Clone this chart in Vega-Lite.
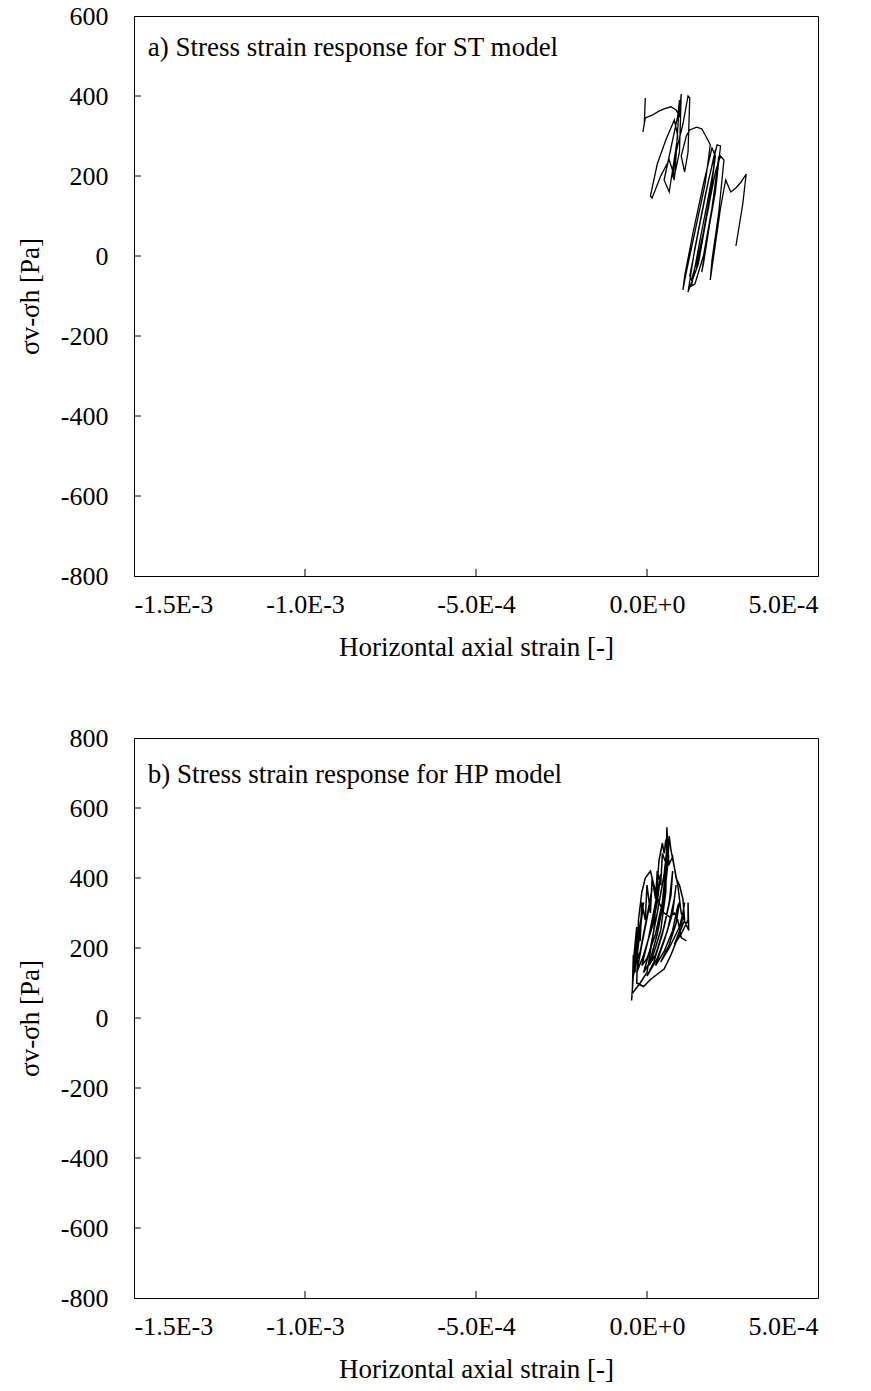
{
  "$schema": "https://vega.github.io/schema/vega-lite/v6.json",
  "background": "white",
  "padding": {"left": 15, "top": 2, "right": 5, "bottom": 5},
  "spacing": 162,
  "bounds": "flush",
  "datasets": {
    "st": [
      {"i": 1, "strain": -5e-6, "stress": 395},
      {"i": 2, "strain": -8e-6, "stress": 330},
      {"i": 3, "strain": -1.2e-5, "stress": 310},
      {"i": 4, "strain": -5e-6, "stress": 345},
      {"i": 5, "strain": 1.5e-5, "stress": 352},
      {"i": 6, "strain": 3.5e-5, "stress": 362},
      {"i": 7, "strain": 5.0e-5, "stress": 368},
      {"i": 8, "strain": 7.0e-5, "stress": 373},
      {"i": 9, "strain": 8.5e-5, "stress": 365},
      {"i": 10, "strain": 9.5e-5, "stress": 350},
      {"i": 11, "strain": 1.0e-4, "stress": 405},
      {"i": 12, "strain": 9.5e-5, "stress": 260},
      {"i": 13, "strain": 8.0e-5, "stress": 200},
      {"i": 14, "strain": 6.5e-5, "stress": 240},
      {"i": 15, "strain": 4.0e-5, "stress": 200},
      {"i": 16, "strain": 1.5e-5, "stress": 145},
      {"i": 17, "strain": 1.0e-5, "stress": 150},
      {"i": 18, "strain": 3.0e-5, "stress": 230},
      {"i": 19, "strain": 5.5e-5, "stress": 290},
      {"i": 20, "strain": 8.0e-5, "stress": 340},
      {"i": 21, "strain": 9.0e-5, "stress": 300},
      {"i": 21.1, "strain": 6.5e-5, "stress": 160},
      {"i": 21.2, "strain": 5.0e-5, "stress": 190},
      {"i": 21.3, "strain": 7.0e-5, "stress": 270},
      {"i": 21.4, "strain": 9.0e-5, "stress": 350},
      {"i": 21.5, "strain": 9.5e-5, "stress": 390},
      {"i": 21.6, "strain": 8.5e-5, "stress": 250},
      {"i": 21.7, "strain": 8.0e-5, "stress": 190},
      {"i": 22, "strain": 7.5e-5, "stress": 200},
      {"i": 23, "strain": 8.5e-5, "stress": 260},
      {"i": 24, "strain": 1.05e-4, "stress": 330},
      {"i": 25, "strain": 1.2e-4, "stress": 400},
      {"i": 26, "strain": 1.25e-4, "stress": 395},
      {"i": 27, "strain": 1.2e-4, "stress": 260},
      {"i": 28, "strain": 1.1e-4, "stress": 210},
      {"i": 29, "strain": 1.0e-4, "stress": 250},
      {"i": 30, "strain": 1.15e-4, "stress": 300},
      {"i": 31, "strain": 1.25e-4, "stress": 315},
      {"i": 32, "strain": 1.45e-4, "stress": 322},
      {"i": 33, "strain": 1.6e-4, "stress": 318},
      {"i": 34, "strain": 1.75e-4, "stress": 295},
      {"i": 35, "strain": 1.85e-4, "stress": 278},
      {"i": 36, "strain": 1.7e-4, "stress": 180},
      {"i": 37, "strain": 1.4e-4, "stress": 60},
      {"i": 38, "strain": 1.15e-4, "stress": -40},
      {"i": 39, "strain": 1.05e-4, "stress": -85},
      {"i": 40, "strain": 1.1e-4, "stress": -50},
      {"i": 41, "strain": 1.35e-4, "stress": 60},
      {"i": 42, "strain": 1.65e-4, "stress": 180},
      {"i": 43, "strain": 1.9e-4, "stress": 270},
      {"i": 44, "strain": 2.0e-4, "stress": 250},
      {"i": 45, "strain": 1.8e-4, "stress": 120},
      {"i": 46, "strain": 1.5e-4, "stress": 0},
      {"i": 47, "strain": 1.3e-4, "stress": -60},
      {"i": 48, "strain": 1.25e-4, "stress": -50},
      {"i": 49, "strain": 1.5e-4, "stress": 60},
      {"i": 50, "strain": 1.8e-4, "stress": 190},
      {"i": 51, "strain": 2.05e-4, "stress": 278},
      {"i": 52, "strain": 2.15e-4, "stress": 275},
      {"i": 53, "strain": 2.0e-4, "stress": 160},
      {"i": 54, "strain": 1.75e-4, "stress": 40},
      {"i": 55, "strain": 1.6e-4, "stress": -40},
      {"i": 56, "strain": 1.65e-4, "stress": -20},
      {"i": 57, "strain": 1.85e-4, "stress": 90},
      {"i": 58, "strain": 2.05e-4, "stress": 200},
      {"i": 59, "strain": 2.1e-4, "stress": 250},
      {"i": 60, "strain": 1.9e-4, "stress": 120},
      {"i": 61, "strain": 1.65e-4, "stress": 0},
      {"i": 62, "strain": 1.4e-4, "stress": -70},
      {"i": 63, "strain": 1.3e-4, "stress": -75},
      {"i": 64, "strain": 1.55e-4, "stress": 40},
      {"i": 65, "strain": 1.8e-4, "stress": 150},
      {"i": 66, "strain": 1.95e-4, "stress": 220},
      {"i": 66.1, "strain": 1.75e-4, "stress": 100},
      {"i": 66.2, "strain": 1.5e-4, "stress": -20},
      {"i": 66.3, "strain": 1.2e-4, "stress": -90},
      {"i": 66.4, "strain": 1.4e-4, "stress": 20},
      {"i": 66.5, "strain": 1.7e-4, "stress": 150},
      {"i": 66.6, "strain": 2.0e-4, "stress": 265},
      {"i": 66.7, "strain": 1.9e-4, "stress": 180},
      {"i": 66.8, "strain": 1.65e-4, "stress": 60},
      {"i": 66.85, "strain": 1.45e-4, "stress": -30},
      {"i": 66.9, "strain": 1.7e-4, "stress": 80},
      {"i": 66.95, "strain": 2.0e-4, "stress": 210},
      {"i": 67, "strain": 2.15e-4, "stress": 250},
      {"i": 68, "strain": 2.25e-4, "stress": 240},
      {"i": 69, "strain": 2.1e-4, "stress": 110},
      {"i": 70, "strain": 1.9e-4, "stress": -10},
      {"i": 71, "strain": 1.85e-4, "stress": -60},
      {"i": 72, "strain": 1.95e-4, "stress": 0},
      {"i": 73, "strain": 2.15e-4, "stress": 120},
      {"i": 74, "strain": 2.3e-4, "stress": 190},
      {"i": 75, "strain": 2.45e-4, "stress": 160},
      {"i": 76, "strain": 2.6e-4, "stress": 170},
      {"i": 77, "strain": 2.75e-4, "stress": 185},
      {"i": 78, "strain": 2.9e-4, "stress": 205},
      {"i": 79, "strain": 2.8e-4, "stress": 130},
      {"i": 80, "strain": 2.6e-4, "stress": 25}
    ],
    "hp": [
      {"i": 1, "strain": -4.5e-5, "stress": 50},
      {"i": 2, "strain": -4.0e-5, "stress": 120},
      {"i": 3, "strain": -3.5e-5, "stress": 200},
      {"i": 4, "strain": -3.0e-5, "stress": 260},
      {"i": 5, "strain": -3.8e-5, "stress": 180},
      {"i": 6, "strain": -4.2e-5, "stress": 110},
      {"i": 7, "strain": -3.0e-5, "stress": 170},
      {"i": 8, "strain": -2.0e-5, "stress": 250},
      {"i": 9, "strain": -1.0e-5, "stress": 330},
      {"i": 10, "strain": -2.5e-5, "stress": 240},
      {"i": 11, "strain": -3.5e-5, "stress": 150},
      {"i": 12, "strain": -2.0e-5, "stress": 190},
      {"i": 13, "strain": 0.0, "stress": 290},
      {"i": 14, "strain": 1.5e-5, "stress": 370},
      {"i": 15, "strain": 0.5e-5, "stress": 310},
      {"i": 16, "strain": -1.5e-5, "stress": 210},
      {"i": 17, "strain": -3.0e-5, "stress": 130},
      {"i": 18, "strain": -1.0e-5, "stress": 180},
      {"i": 19, "strain": 1.5e-5, "stress": 260},
      {"i": 20, "strain": 3.0e-5, "stress": 330},
      {"i": 21, "strain": 4.0e-5, "stress": 410},
      {"i": 22, "strain": 2.5e-5, "stress": 330},
      {"i": 23, "strain": 0.5e-5, "stress": 230},
      {"i": 24, "strain": -1.5e-5, "stress": 150},
      {"i": 25, "strain": 0.0, "stress": 170},
      {"i": 26, "strain": 2.5e-5, "stress": 240},
      {"i": 27, "strain": 4.5e-5, "stress": 330},
      {"i": 28, "strain": 5.5e-5, "stress": 430},
      {"i": 29, "strain": 6.0e-5, "stress": 500},
      {"i": 30, "strain": 5.0e-5, "stress": 410},
      {"i": 31, "strain": 3.0e-5, "stress": 300},
      {"i": 32, "strain": 1.0e-5, "stress": 200},
      {"i": 33, "strain": -1.0e-5, "stress": 130},
      {"i": 34, "strain": 1.5e-5, "stress": 170},
      {"i": 35, "strain": 4.0e-5, "stress": 250},
      {"i": 36, "strain": 5.5e-5, "stress": 360},
      {"i": 37, "strain": 5.8e-5, "stress": 545},
      {"i": 38, "strain": 6.3e-5, "stress": 460},
      {"i": 39, "strain": 5.0e-5, "stress": 340},
      {"i": 40, "strain": 3.0e-5, "stress": 240},
      {"i": 41, "strain": 0.5e-5, "stress": 150},
      {"i": 42, "strain": 2.5e-5, "stress": 180},
      {"i": 43, "strain": 5.0e-5, "stress": 260},
      {"i": 44, "strain": 7.0e-5, "stress": 350},
      {"i": 45, "strain": 7.5e-5, "stress": 420},
      {"i": 46, "strain": 6.5e-5, "stress": 330},
      {"i": 47, "strain": 4.5e-5, "stress": 240},
      {"i": 48, "strain": 2.0e-5, "stress": 160},
      {"i": 49, "strain": 0.0, "stress": 120},
      {"i": 50, "strain": 3.0e-5, "stress": 170},
      {"i": 51, "strain": 6.0e-5, "stress": 250},
      {"i": 52, "strain": 8.0e-5, "stress": 340},
      {"i": 53, "strain": 8.5e-5, "stress": 380},
      {"i": 54, "strain": 7.5e-5, "stress": 300},
      {"i": 55, "strain": 5.0e-5, "stress": 220},
      {"i": 56, "strain": 2.5e-5, "stress": 150},
      {"i": 57, "strain": 5.0e-5, "stress": 190},
      {"i": 58, "strain": 7.5e-5, "stress": 250},
      {"i": 59, "strain": 9.0e-5, "stress": 320},
      {"i": 60, "strain": 9.5e-5, "stress": 330},
      {"i": 61, "strain": 8.5e-5, "stress": 270},
      {"i": 62, "strain": 6.5e-5, "stress": 210},
      {"i": 63, "strain": 4.0e-5, "stress": 160},
      {"i": 64, "strain": 6.5e-5, "stress": 200},
      {"i": 65, "strain": 9.5e-5, "stress": 260},
      {"i": 66, "strain": 1.05e-4, "stress": 300},
      {"i": 67, "strain": 1.1e-4, "stress": 330},
      {"i": 68, "strain": 1.0e-4, "stress": 260},
      {"i": 69, "strain": 8.0e-5, "stress": 210},
      {"i": 70, "strain": 1.0e-4, "stress": 240},
      {"i": 71, "strain": 1.2e-4, "stress": 280},
      {"i": 72, "strain": 1.2e-4, "stress": 330},
      {"i": 73, "strain": 1.22e-4, "stress": 250},
      {"i": 74, "strain": 1.0e-4, "stress": 300},
      {"i": 75, "strain": 9.0e-5, "stress": 380},
      {"i": 76, "strain": 8.0e-5, "stress": 430},
      {"i": 77, "strain": 7.0e-5, "stress": 480},
      {"i": 78, "strain": 6.5e-5, "stress": 520},
      {"i": 79, "strain": 6.0e-5, "stress": 430},
      {"i": 80, "strain": 4.5e-5, "stress": 470},
      {"i": 81, "strain": 4.0e-5, "stress": 380},
      {"i": 82, "strain": 3.0e-5, "stress": 420},
      {"i": 83, "strain": 2.5e-5, "stress": 340},
      {"i": 84, "strain": 1.5e-5, "stress": 400},
      {"i": 85, "strain": 1.0e-5, "stress": 300},
      {"i": 86, "strain": 0.0, "stress": 380},
      {"i": 87, "strain": -0.5e-5, "stress": 280},
      {"i": 88, "strain": -1.5e-5, "stress": 330},
      {"i": 89, "strain": -2.0e-5, "stress": 220},
      {"i": 90, "strain": -3.0e-5, "stress": 250},
      {"i": 91, "strain": -3.5e-5, "stress": 130},
      {"i": 92, "strain": -4.0e-5, "stress": 180},
      {"i": 93, "strain": -4.3e-5, "stress": 70},
      {"i": 94, "strain": -2.0e-5, "stress": 100},
      {"i": 95, "strain": 0.0, "stress": 130},
      {"i": 96, "strain": 2.0e-5, "stress": 250},
      {"i": 97, "strain": 3.5e-5, "stress": 450},
      {"i": 98, "strain": 4.5e-5, "stress": 500},
      {"i": 99, "strain": 5.0e-5, "stress": 470},
      {"i": 100, "strain": 5.5e-5, "stress": 510},
      {"i": 101, "strain": 6.5e-5, "stress": 440},
      {"i": 102, "strain": 7.5e-5, "stress": 460},
      {"i": 103, "strain": 8.5e-5, "stress": 400},
      {"i": 104, "strain": 9.5e-5, "stress": 380},
      {"i": 105, "strain": 1.05e-4, "stress": 340},
      {"i": 106, "strain": 1.1e-4, "stress": 280},
      {"i": 107, "strain": 9.0e-5, "stress": 230},
      {"i": 108, "strain": 7.0e-5, "stress": 180},
      {"i": 109, "strain": 5.0e-5, "stress": 140},
      {"i": 110, "strain": 3.0e-5, "stress": 125},
      {"i": 111, "strain": 1.0e-5, "stress": 110},
      {"i": 112, "strain": -1.0e-5, "stress": 90},
      {"i": 113, "strain": -3.0e-5, "stress": 100},
      {"i": 114, "strain": -2.5e-5, "stress": 280},
      {"i": 115, "strain": -1.5e-5, "stress": 360},
      {"i": 116, "strain": -0.5e-5, "stress": 400},
      {"i": 117, "strain": 1.0e-5, "stress": 420},
      {"i": 118, "strain": 2.0e-5, "stress": 380},
      {"i": 119, "strain": 3.5e-5, "stress": 330},
      {"i": 120, "strain": 5.0e-5, "stress": 300},
      {"i": 121, "strain": 6.5e-5, "stress": 290},
      {"i": 122, "strain": 8.0e-5, "stress": 300},
      {"i": 123, "strain": 9.0e-5, "stress": 280},
      {"i": 124, "strain": 1.0e-4, "stress": 230},
      {"i": 125, "strain": 1.15e-4, "stress": 220}
    ],
    "labels": [
      {"panel": "a", "strain": -0.00146, "stress": 520, "text": "a) Stress strain response for ST model"},
      {"panel": "b", "strain": -0.00146, "stress": 694, "text": "b) Stress strain response for HP model"}
    ],
    "xticks": [
      {"v": -0.001}, {"v": -0.0005}, {"v": 0}
    ],
    "yticksA": [
      {"v": -600}, {"v": -400}, {"v": -200}, {"v": 0}, {"v": 200}, {"v": 400}
    ],
    "yticksB": [
      {"v": -600}, {"v": -400}, {"v": -200}, {"v": 0}, {"v": 200}, {"v": 400}, {"v": 600}
    ]
  },
  "config": {
    "view": {"stroke": "black", "strokeWidth": 1},
    "axis": {
      "grid": false,
      "ticks": false,
      "domainColor": "black",
      "labelColor": "black",
      "titleColor": "black",
      "labelFont": "Liberation Serif",
      "titleFont": "Liberation Serif",
      "labelFontSize": 26,
      "titleFontSize": 27,
      "titleFontWeight": "normal"
    }
  },
  "vconcat": [
    {
      "width": 684,
      "height": 560,
      "layer": [
        {
          "data": {"name": "st"},
          "mark": {"type": "line", "color": "black", "strokeWidth": 1.3},
          "encoding": {
            "x": {"field": "strain", "type": "quantitative", "scale": {"domain": [-0.0015, 0.0005], "nice": false, "zero": false},
              "axis": {"title": "Horizontal axial strain [-]", "values": [-0.0015, -0.001, -0.0005, 0, 0.0005], "labelPadding": 15, "titlePadding": 17,
                "labelExpr": "datum.value < -0.0012 ? '-1.5E-3' : datum.value < -0.0007 ? '-1.0E-3' : datum.value < -0.0002 ? '-5.0E-4' : datum.value < 0.0002 ? '0.0E+0' : '5.0E-4'"}},
            "y": {"field": "stress", "type": "quantitative", "scale": {"domain": [-800, 600], "nice": false},
              "axis": {"title": "σv-σh [Pa]", "values": [-800, -600, -400, -200, 0, 200, 400, 600], "labelPadding": 26, "titlePadding": 16,
                "labelExpr": "datum.value < 0 ? '-' + abs(datum.value) : '' + datum.value"}},
            "order": {"field": "i", "type": "quantitative"}
          }
        },
        {
          "data": {"name": "xticks"},
          "mark": {"type": "rule", "color": "black", "strokeWidth": 1},
          "encoding": {
            "x": {"field": "v", "type": "quantitative"},
            "y": {"datum": -800},
            "y2": {"datum": -782}
          }
        },
        {
          "data": {"name": "yticksA"},
          "mark": {"type": "rule", "color": "black", "strokeWidth": 1},
          "encoding": {
            "y": {"field": "v", "type": "quantitative"},
            "x": {"datum": -0.0015},
            "x2": {"datum": -0.00148}
          }
        },
        {
          "data": {"name": "labels"},
          "transform": [{"filter": "datum.panel == 'a'"}],
          "mark": {"type": "text", "align": "left", "baseline": "middle", "font": "Liberation Serif", "fontSize": 27, "color": "black"},
          "encoding": {
            "x": {"field": "strain", "type": "quantitative"},
            "y": {"field": "stress", "type": "quantitative"},
            "text": {"field": "text"}
          }
        }
      ]
    },
    {
      "width": 684,
      "height": 560,
      "layer": [
        {
          "data": {"name": "hp"},
          "mark": {"type": "line", "color": "black", "strokeWidth": 1.5},
          "encoding": {
            "x": {"field": "strain", "type": "quantitative", "scale": {"domain": [-0.0015, 0.0005], "nice": false, "zero": false},
              "axis": {"title": "Horizontal axial strain [-]", "values": [-0.0015, -0.001, -0.0005, 0, 0.0005], "labelPadding": 15, "titlePadding": 17,
                "labelExpr": "datum.value < -0.0012 ? '-1.5E-3' : datum.value < -0.0007 ? '-1.0E-3' : datum.value < -0.0002 ? '-5.0E-4' : datum.value < 0.0002 ? '0.0E+0' : '5.0E-4'"}},
            "y": {"field": "stress", "type": "quantitative", "scale": {"domain": [-800, 800], "nice": false},
              "axis": {"title": "σv-σh [Pa]", "values": [-800, -600, -400, -200, 0, 200, 400, 600, 800], "labelPadding": 26, "titlePadding": 16,
                "labelExpr": "datum.value < 0 ? '-' + abs(datum.value) : '' + datum.value"}},
            "order": {"field": "i", "type": "quantitative"}
          }
        },
        {
          "data": {"name": "xticks"},
          "mark": {"type": "rule", "color": "black", "strokeWidth": 1},
          "encoding": {
            "x": {"field": "v", "type": "quantitative"},
            "y": {"datum": -800},
            "y2": {"datum": -780}
          }
        },
        {
          "data": {"name": "yticksB"},
          "mark": {"type": "rule", "color": "black", "strokeWidth": 1},
          "encoding": {
            "y": {"field": "v", "type": "quantitative"},
            "x": {"datum": -0.0015},
            "x2": {"datum": -0.00148}
          }
        },
        {
          "data": {"name": "labels"},
          "transform": [{"filter": "datum.panel == 'b'"}],
          "mark": {"type": "text", "align": "left", "baseline": "middle", "font": "Liberation Serif", "fontSize": 27, "color": "black"},
          "encoding": {
            "x": {"field": "strain", "type": "quantitative"},
            "y": {"field": "stress", "type": "quantitative"},
            "text": {"field": "text"}
          }
        }
      ]
    }
  ]
}
